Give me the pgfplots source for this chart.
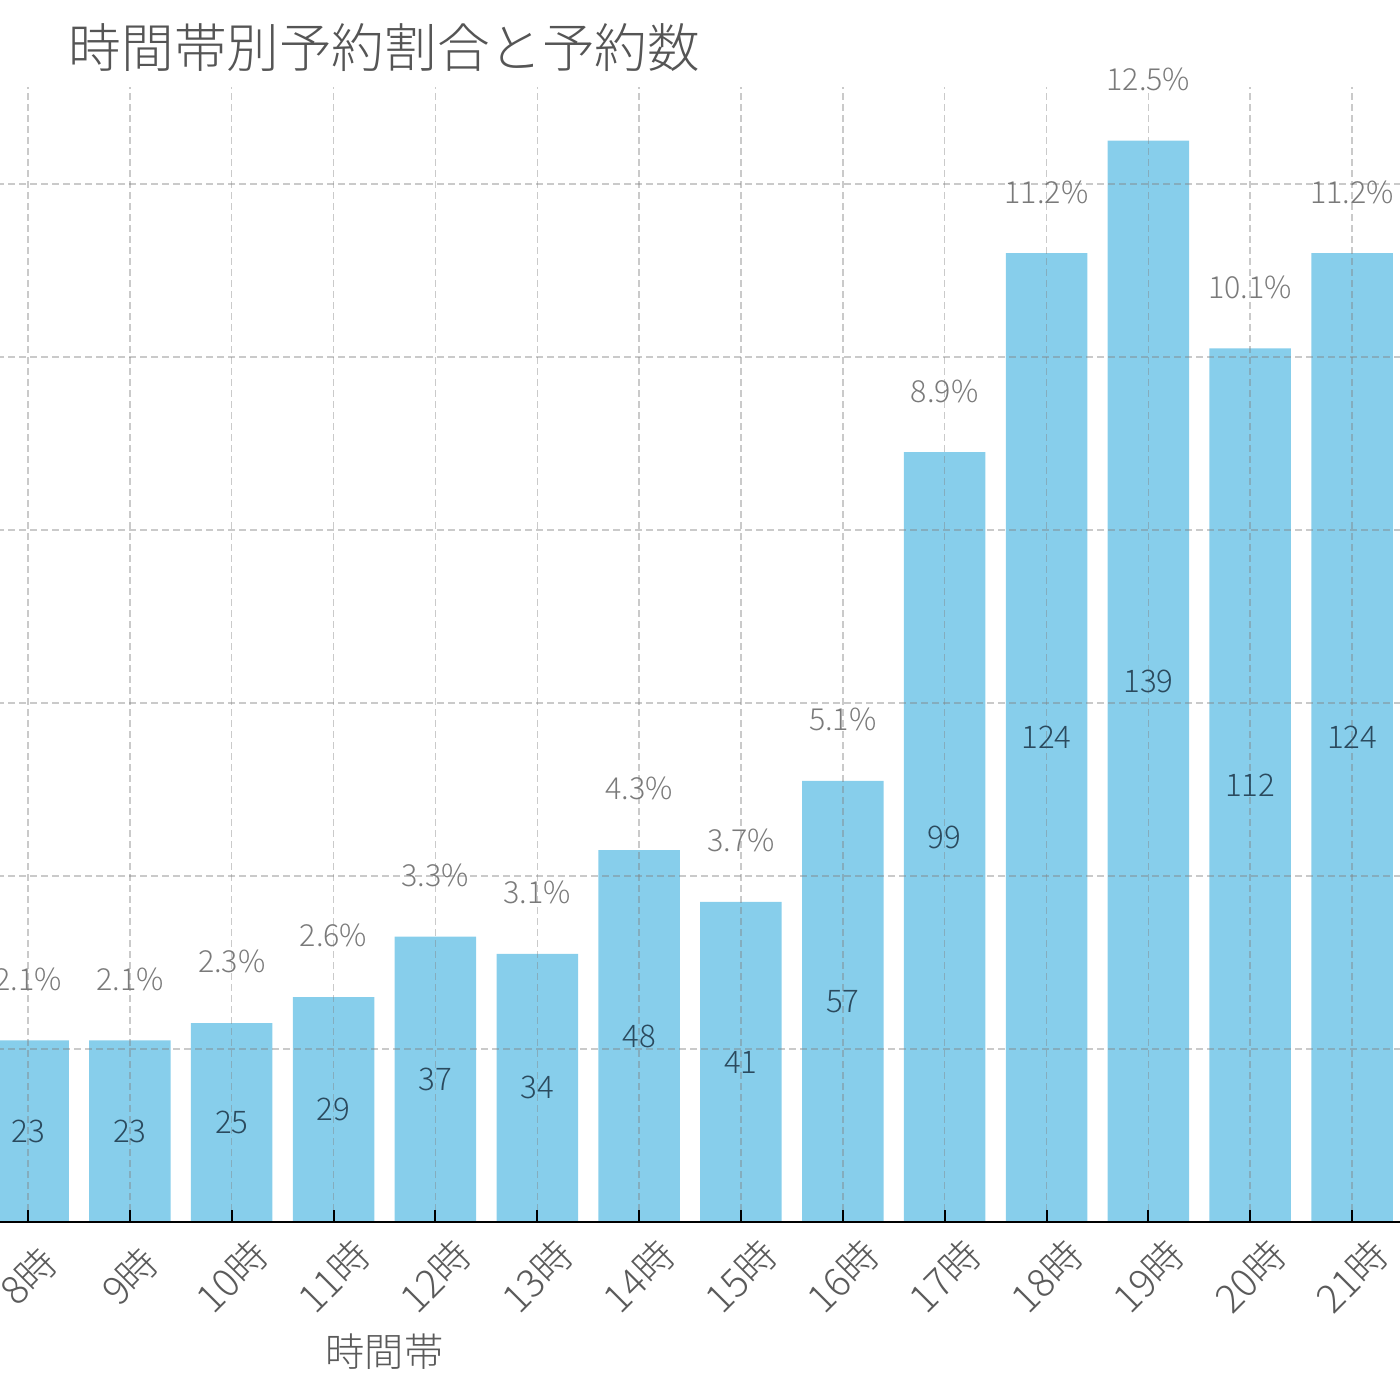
\documentclass[border=0pt]{standalone}
\usepackage{pgfplots}
\pgfplotsset{compat=1.18}
\usepackage{pgfplotstable}
\usepackage{fontspec}
\setmainfont{Noto Sans CJK JP}[UprightFont={* Light}]

\definecolor{barblue}{HTML}{87CEEB}
\definecolor{titlegray}{HTML}{555555}
\definecolor{labelgray}{HTML}{5A5A5A}
\definecolor{pctgray}{HTML}{7A7A7A}
\definecolor{cntdark}{HTML}{2B4A5E}

% hour, share of bookings (%), number of bookings
\pgfplotstableread{
x pct cnt
8 2.1 23
9 2.1 23
10 2.3 25
11 2.6 29
12 3.3 37
13 3.1 34
14 4.3 48
15 3.7 41
16 5.1 57
17 8.9 99
18 11.2 124
19 12.5 139
20 10.1 112
21 11.2 124
}\datatable

\begin{document}
\begin{tikzpicture}
\useasboundingbox (196.7pt,-44.5pt) rectangle (546.7pt,305.5pt);
\clip (196.7pt,-44.5pt) rectangle (546.7pt,305.5pt);
\begin{axis}[
  at={(0,0)}, anchor=origin,
  x=25.4625pt, y=21.625pt,
  xmin=-1.59, xmax=24.59, ymin=0, ymax=13.125,
  axis x line*=bottom, axis y line*=left,
  x axis line style={black, line width=0.6pt, -},
  y axis line style={draw=none},
  clip=false,
  axis on top,
  xtick={8,...,21},
  xticklabels={8時,9時,10時,11時,12時,13時,14時,15時,16時,17時,18時,19時,20時,21時},
  ytick={0,2,...,12},
  yticklabels={},
  tick align=inside,
  major tick length=3pt,
  x tick style={black, line width=0.5pt},
  y tick style={draw=none},
  xticklabel style={text=labelgray, font=\fontsize{9.8}{11}\selectfont,
    yshift=-13.5pt, rotate=45, anchor=center},
  grid=major,
  major grid style={gray, opacity=0.42, line width=0.375pt,
    dash pattern=on 1.75pt off 1pt},
]
% bars with their share above
\addplot[ybar, bar width=0.8, bar shift=0pt, fill=barblue, draw=none,
  point meta=explicit symbolic,
  nodes near coords={\pgfplotspointmeta\%},
  every node near coord/.append style={anchor=center, yshift=15.3pt,
    text=pctgray, font=\fontsize{7.6}{9}\selectfont}]
  table[x=x, y=pct, meta=pct] {\datatable};
% booking counts at mid-height of each bar
\addplot[ybar, bar width=0.8, bar shift=0pt, fill=none, draw=none,
  point meta=explicit symbolic,
  visualization depends on={rawy \as \ry},
  nodes near coords={\pgfplotspointmeta},
  every node near coord/.append style={anchor=center,
    yshift={-0.5*\ry*21.625pt},
    text=cntdark, font=\fontsize{7.8}{9}\selectfont}]
  table[x=x, y=pct, meta=cnt] {\datatable};
\node[text=titlegray, font=\fontsize{13.15}{15}\selectfont, anchor=center]
  at (axis cs:11.5,13.58) {時間帯別予約割合と予約数};
\node[text=labelgray, font=\fontsize{9.8}{11}\selectfont, anchor=center]
  at (axis cs:11.5,-1.503) {時間帯};
\end{axis}
\end{tikzpicture}
\end{document}
